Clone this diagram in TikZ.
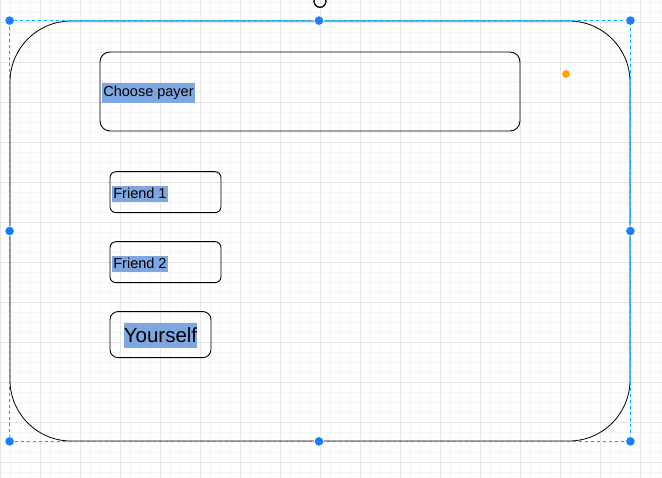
\documentclass[tikz,border=0pt]{standalone}
\usepackage{fontspec}
\setmainfont{Liberation Sans}
\definecolor{gridminor}{HTML}{F4F4F4}
\definecolor{gridmajor}{HTML}{E6E6E6}
\definecolor{selblue}{HTML}{00A8FF}
\definecolor{handleblue}{HTML}{1A7CFF}
\definecolor{handleorange}{HTML}{FFA500}
\definecolor{hilite}{HTML}{7EA6E0}
\tikzset{
  box/.style={draw=black, line width=0.9pt, inner sep=0pt},
  hl/.style={fill=hilite, text=black, inner ysep=0pt, anchor=west},
  handle/.style={circle, fill=handleblue, draw=white, line width=0.6pt, inner sep=0pt, minimum size=9.5pt},
  ohandle/.style={circle, fill=handleorange, draw=white, line width=0.8pt, inner sep=0pt, minimum size=9pt},
  sel/.style={draw=selblue, line width=0.9pt, dash pattern=on 3pt off 3pt},
}
\begin{document}
\begin{tikzpicture}[x=1pt,y=-1pt]
\useasboundingbox (0,0) rectangle (662,478);
\fill[white] (0,0) rectangle (662,478);
% grid
\foreach \i in {0,...,66} {\draw[gridminor, line width=0.6pt] ({0.7+10*\i},0) -- ({0.7+10*\i},478);}
\foreach \j in {0,...,47} {\draw[gridminor, line width=0.6pt] (0,{2.7+10*\j}) -- (662,{2.7+10*\j});}
\foreach \i in {0,...,16} {\draw[gridmajor, line width=0.8pt] ({0.7+40*\i},0) -- ({0.7+40*\i},478);}
\foreach \j in {0,...,11} {\draw[gridmajor, line width=0.8pt] (0,{22.7+40*\j}) -- (662,{22.7+40*\j});}

% main container
\node[box, line width=0.8pt, rounded corners=61pt, minimum width=620pt, minimum height=420pt] (main) at (320,231) {};
\draw[sel] (main.north west) rectangle (main.south east);

% choose payer
\node[box, rounded corners=10pt, minimum width=420pt, minimum height=79pt] (payer) at (310,91.5) {};
\node[hl, inner xsep=1.2pt, minimum height=19.5pt, font=\fontsize{14.5}{16}\selectfont] (payert) at ([xshift=2.4pt,yshift=-1.6pt]payer.west) {Choose payer};

% friend 1
\node[box, rounded corners=6pt, minimum width=111pt, minimum height=41pt] (f1) at (165.5,192.2) {};
\node[hl, inner xsep=1.3pt, minimum height=16pt, font=\fontsize{14.5}{16}\selectfont] (f1t) at ([xshift=2.3pt,yshift=-1.5pt]f1.west) {Friend 1};

% friend 2
\node[box, rounded corners=6pt, minimum width=111pt, minimum height=41pt] (f2) at (165.5,262.2) {};
\node[hl, inner xsep=1.3pt, minimum height=16pt, font=\fontsize{14.5}{16}\selectfont] (f2t) at ([xshift=2.3pt,yshift=-1.5pt]f2.west) {Friend 2};

% yourself
\node[box, rounded corners=8pt, minimum width=101pt, minimum height=46pt] (you) at (160.5,334.6) {};
\node[fill=hilite, inner xsep=0.3pt, inner ysep=0pt, minimum height=25pt, font=\fontsize{20.5}{22}\selectfont] (yout) at ([yshift=-0.6pt]you.center) {Yourself};

% selection handles
\node[handle] (h1) at (main.north west) {};
\node[handle] (h2) at ([xshift=-1pt]main.north) {};
\node[handle] (h3) at (main.north east) {};
\node[handle] (h4) at (main.west) {};
\node[handle] (h5) at (main.east) {};
\node[handle] (h6) at (main.south west) {};
\node[handle] (h7) at ([xshift=-1pt]main.south) {};
\node[handle] (h8) at (main.south east) {};
\node[ohandle] (oh) at (566,74) {};

% rotation icon
\coordinate (rot) at (320,1.3);
\draw[black, line width=1.3pt] (rot) circle[radius=6pt];
\end{tikzpicture}
\end{document}
